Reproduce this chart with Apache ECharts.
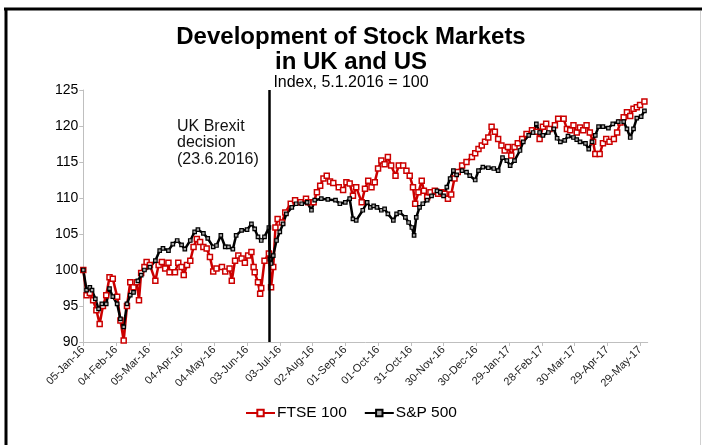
<!DOCTYPE html>
<html>
<head>
<meta charset="utf-8">
<script src="https://cdn.jsdelivr.net/npm/echarts@6/dist/echarts.min.js"></script>
<style>
html, body { margin: 0; padding: 0; background: #fff; }
#main { width: 702px; height: 445px; }
</style>
</head>
<body>
<div id="main"></div>
<script>
// x values are days after 5 Jan 2016
var tickLabels = ['05-Jan-16', '04-Feb-16', '05-Mar-16', '04-Apr-16', '04-May-16', '03-Jun-16',
  '03-Jul-16', '02-Aug-16', '01-Sep-16', '01-Oct-16', '31-Oct-16', '30-Nov-16', '30-Dec-16',
  '29-Jan-17', '28-Feb-17', '30-Mar-17', '29-Apr-17', '29-May-17'];

var ftseDay = [0, 3, 6, 9, 12, 15, 18, 21, 24, 27, 31, 34, 37, 40, 43, 46, 49, 51, 53, 56, 58, 61, 66, 69, 72, 75, 78, 79,
  84, 87, 90, 92, 95, 98, 101, 104, 107, 110, 113, 116, 119, 122, 127, 130, 134, 136, 139, 142, 145, 148, 151, 154,
  156, 157, 160, 162, 163, 166, 170, 172, 174, 176, 178, 182, 185, 190, 194, 199, 204, 206, 211, 214, 217, 220, 223,
  226, 229, 234, 238, 241, 244, 247, 250, 255, 258, 261, 264, 267, 270, 273, 276, 279, 282, 286, 289, 293, 296, 299,
  302, 304, 307, 310, 312, 315, 318, 322, 325, 328, 331, 334, 337, 340, 343, 347, 351, 356, 359, 362, 365, 368, 371,
  374, 377, 380, 383, 386, 389, 392, 395, 398, 402, 406, 411, 415, 418, 421, 424, 427, 432, 435, 440, 443, 446, 449,
  452, 455, 458, 461, 464, 467, 469, 473, 476, 479, 482, 486, 489, 492, 495, 498, 501, 504, 507, 510, 514];
var ftseValue = [100.0, 96.5, 96.8, 95.8, 94.4, 92.5, 95.0, 96.5, 99.0, 98.8, 96.3, 93.0, 90.2, 95.0, 98.3, 97.6, 98.3, 95.8,
  99.6, 100.4, 101.1, 100.7, 98.5, 100.7, 101.1, 100.2, 101.0, 99.7, 99.7, 101.0, 100.4, 99.3, 100.7, 101.3, 103.2,
  104.3, 103.9, 103.2, 103.0, 101.8, 99.8, 100.2, 100.4, 99.8, 100.2, 98.5, 101.3, 102.0, 101.6, 101.0, 102.0, 102.5,
  100.4, 99.7, 98.3, 96.7, 97.5, 101.3, 102.3, 97.6, 100.4, 105.9, 107.1, 106.6, 108.0, 109.2, 109.7, 109.4, 109.9,
  109.4, 109.4, 110.8, 111.7, 112.7, 113.1, 112.3, 112.1, 111.5, 111.1, 112.2, 112.0, 110.3, 111.5, 109.4, 111.3,
  112.4, 111.5, 112.2, 114.1, 115.2, 114.7, 115.7, 114.5, 113.1, 114.5, 114.5, 113.8, 113.1, 111.5, 109.2, 110.8,
  112.4, 111.0, 110.1, 110.8, 111.0, 110.6, 110.8, 110.6, 109.9, 110.5, 112.7, 113.6, 114.5, 115.0, 115.7, 116.2,
  116.8, 117.3, 117.8, 118.4, 119.9, 119.2, 118.2, 117.3, 116.6, 117.1, 115.9, 117.1, 117.6, 118.2, 118.9, 119.4,
  119.2, 118.2, 119.9, 120.3, 119.6, 120.1, 121.0, 121.0, 119.6, 119.4, 120.1, 119.1, 119.8, 119.4, 120.1, 119.1,
  117.8, 116.1, 116.1, 117.6, 118.2, 117.8, 118.2, 119.1, 120.5, 121.2, 121.9, 121.4, 122.4, 122.6, 122.9, 123.4];

var spxDay = [0, 3, 6, 8, 11, 14, 17, 21, 24, 27, 31, 34, 37, 40, 43, 46, 50, 53, 56, 61, 66, 70, 73, 78, 82, 86, 90, 93,
  98, 102, 105, 110, 114, 119, 122, 126, 130, 133, 137, 140, 145, 150, 154, 157, 160, 163, 166, 170, 171, 172, 174,
  177, 180, 183, 186, 191, 195, 200, 205, 209, 212, 218, 224, 231, 235, 240, 244, 247, 250, 256, 260, 263, 266, 269,
  273, 276, 279, 284, 287, 290, 295, 298, 301, 303, 305, 308, 311, 315, 319, 324, 327, 330, 333, 336, 339, 342, 347,
  351, 354, 359, 362, 366, 371, 376, 380, 384, 388, 391, 395, 400, 403, 408, 412, 415, 418, 421, 426, 431, 434, 437,
  441, 444, 449, 452, 455, 460, 463, 466, 469, 472, 476, 481, 485, 490, 495, 498, 501, 504, 507, 511, 514];
var spxValue = [100.0, 97.2, 97.6, 97.2, 96.0, 94.6, 95.3, 95.3, 97.4, 96.3, 95.3, 93.2, 92.1, 95.3, 96.5, 96.9, 98.5, 99.3,
  100.0, 100.4, 101.3, 102.7, 103.0, 102.7, 103.6, 104.1, 103.5, 102.9, 104.1, 105.3, 105.6, 105.1, 104.4, 103.2,
  103.4, 104.8, 103.2, 103.2, 102.9, 104.8, 105.5, 105.6, 106.4, 105.7, 104.6, 104.1, 104.6, 105.9, 101.5, 100.9,
  102.0, 104.1, 105.3, 106.4, 107.8, 108.7, 109.2, 109.2, 109.4, 108.3, 109.7, 109.9, 109.8, 109.7, 109.2, 109.4,
  109.9, 107.1, 106.9, 108.3, 109.4, 108.7, 108.9, 108.7, 108.3, 108.5, 107.8, 106.9, 107.8, 108.0, 107.3, 106.6,
  105.9, 104.8, 107.3, 108.7, 109.2, 109.7, 110.3, 111.0, 110.8, 110.3, 111.5, 112.7, 113.8, 113.2, 113.8, 113.6,
  113.1, 112.5, 113.8, 114.3, 114.2, 114.1, 113.8, 115.6, 115.2, 114.5, 115.2, 116.6, 117.8, 118.7, 119.1, 120.3,
  119.1, 118.7, 119.1, 119.6, 118.3, 117.8, 118.0, 118.6, 118.4, 118.1, 117.8, 117.6, 116.8, 117.8, 118.7, 119.9,
  119.9, 119.7, 120.3, 120.6, 120.6, 119.6, 118.4, 119.6, 121.1, 121.3, 122.1];

var brexitDay = 170; // 23 Jun 2016

var font = "'Liberation Sans', Arial, sans-serif";

function pairs(xs, ys) {
  return xs.map(function (x, i) { return [x, ys[i]]; });
}

var myChart = echarts.init(document.getElementById('main'));

var option = {
  animation: false,
  backgroundColor: '#fff',
  textStyle: { fontFamily: font },
  title: {
    left: 'center',
    top: 25,
    padding: 0,
    itemGap: 0,
    text: 'Development of Stock Markets\nin UK and US',
    textStyle: { fontFamily: font, fontSize: 24, fontWeight: 'bold', color: '#000', lineHeight: 25 },
    subtext: 'Index, 5.1.2016 = 100',
    subtextStyle: { fontFamily: font, fontSize: 16, color: '#000', lineHeight: 16 }
  },
  legend: {
    bottom: 19,
    left: 'center',
    itemWidth: 29,
    itemHeight: 8,
    itemGap: 17,
    textStyle: { fontFamily: font, fontSize: 15.5, color: '#000', padding: [0, 0, 0, -3] },
    data: ['FTSE 100', 'S&P 500']
  },
  grid: { left: 83.3, right: 54.3, top: 90, bottom: 103 },
  xAxis: {
    type: 'value',
    min: 0,
    max: 517,
    interval: 30,
    splitLine: { show: false },
    axisLine: { lineStyle: { color: '#bfbfbf', width: 1 } },
    axisTick: { show: true, length: 4, lineStyle: { color: '#bfbfbf' } },
    axisLabel: {
      rotate: 45,
      margin: 6,
      fontSize: 11,
      color: '#222',
      fontFamily: font,
      showMaxLabel: false,
      formatter: function (v) {
        return v % 30 === 0 ? tickLabels[v / 30] : '';
      }
    }
  },
  yAxis: {
    type: 'value',
    min: 90,
    max: 125,
    interval: 5,
    splitLine: { show: false },
    axisLine: { show: true, lineStyle: { color: '#bfbfbf', width: 1 } },
    axisTick: { show: true, length: 4, lineStyle: { color: '#bfbfbf' } },
    axisLabel: { margin: 5, fontSize: 14, color: '#000', fontFamily: font }
  },
  graphic: [
    { type: 'line', shape: { x1: 4, y1: 9, x2: 702, y2: 9 }, style: { stroke: '#000', lineWidth: 3 } },
    { type: 'line', shape: { x1: 6, y1: 8, x2: 6, y2: 445 }, style: { stroke: '#000', lineWidth: 3 } },
    { type: 'line', shape: { x1: 700.5, y1: 11, x2: 700.5, y2: 445 }, style: { stroke: '#d0d0d0', lineWidth: 1 } },
    {
      type: 'text', left: 177, top: 118,
      style: { text: 'UK Brexit\ndecision\n(23.6.2016)', font: '16px ' + font, lineHeight: 16.5, fill: '#111' }
    }
  ],
  series: [
    {
      name: 'FTSE 100',
      type: 'line',
      data: pairs(ftseDay, ftseValue),
      symbol: 'rect',
      symbolSize: 5,
      showSymbol: true,
      lineStyle: { color: '#cc0000', width: 2.5 },
      itemStyle: { color: '#fff', borderColor: '#cc0000', borderWidth: 1.5 }
    },
    {
      name: 'S&P 500',
      type: 'line',
      data: pairs(spxDay, spxValue),
      symbol: 'rect',
      symbolSize: 3.5,
      showSymbol: true,
      lineStyle: { color: '#000', width: 2.5 },
      itemStyle: { color: '#aaa', borderColor: '#000', borderWidth: 1.2 },
      markLine: {
        silent: true,
        symbol: 'none',
        label: { show: false },
        lineStyle: { color: '#000', width: 2.5, type: 'solid' },
        data: [{ xAxis: brexitDay }]
      }
    }
  ]
};

myChart.setOption(option);
window.onresize = function () {
  myChart.resize();
};
</script>
</body>
</html>
